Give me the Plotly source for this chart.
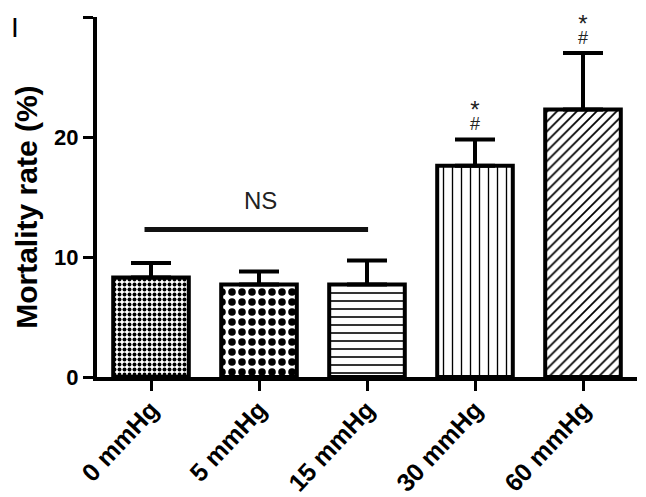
import plotly.graph_objects as go

categories = ["0 mmHg", "5 mmHg", "15 mmHg", "30 mmHg", "60 mmHg"]
mortality = [8.3, 7.7, 7.7, 17.6, 22.3]
sem = [1.2, 1.1, 2.0, 2.2, 4.7]
patterns = [".", ".", "-", "|", "/"]
pattern_sizes = [5, 10, 8, 9, 7]
pattern_solidity = [0.5, 0.45, 0.2, 0.15, 0.25]

y_title = "Mortality rate (%)"
star_groups = ["30 mmHg", "60 mmHg"]
star_text = "<span style='font-size:24px'>*</span><br><span style='font-size:18px'>#</span>"
ns_span = ["0 mmHg", "15 mmHg"]
ns_level = 12.3

FONT = "Arial, Liberation Sans, sans-serif"

fig = go.Figure()
fig.add_trace(go.Bar(
    x=categories, y=mortality, width=0.7,
    marker=dict(
        color="white",
        line=dict(color="black", width=4),
        pattern=dict(shape=patterns, size=pattern_sizes, solidity=pattern_solidity,
                     fgcolor="black", bgcolor="white", fillmode="replace"),
    ),
    error_y=dict(type="data", array=sem, arrayminus=[0] * len(sem), symmetric=False,
                 color="black", thickness=4, width=20),
    showlegend=False,
))

annotations = []
for g in star_groups:
    i = categories.index(g)
    top = mortality[i] + sem[i]
    annotations.append(dict(x=g, y=top, xref="x", yref="y", text=star_text, showarrow=False,
                            yanchor="bottom", yshift=3,
                            font=dict(family=FONT, size=9, color="#222")))

i0 = categories.index(ns_span[0])
i1 = categories.index(ns_span[1])
annotations.append(dict(x=(i0 + i1) / 2 + 0.01, y=ns_level, xref="x", yref="y", text="NS",
                        showarrow=False, yanchor="bottom", yshift=13,
                        font=dict(family=FONT, size=24, color="#222")))
annotations.append(dict(x=-0.1635, y=0.972, xref="paper", yref="paper", text="I",
                        showarrow=False, xanchor="left", yanchor="middle",
                        font=dict(family=FONT, size=28, color="black")))
annotations.append(dict(x=-0.1296, y=0.47, xref="paper", yref="paper", text=y_title,
                        textangle=-90, showarrow=False, xanchor="center", yanchor="middle",
                        font=dict(family=FONT, size=30, color="black", weight="bold")))

fig.add_shape(type="line", x0=i0 - 0.06, x1=i1 + 0.01, y0=ns_level, y1=ns_level,
              xref="x", yref="y", line=dict(color="#111", width=5))

# page body has an 8px default margin, so the plot area is offset accordingly
fig.update_layout(
    width=646, height=497,
    margin=dict(l=89, r=17, t=9, b=128),
    paper_bgcolor="white", plot_bgcolor="white",
    annotations=annotations,
)
fig.update_xaxes(
    range=[-0.5, 4.5], showline=True, linecolor="black", linewidth=4,
    ticks="outside", ticklen=10, tickwidth=3, tickcolor="black",
    tickangle=-47, tickfont=dict(family=FONT, size=25, color="black", weight="bold"),
    ticklabelstandoff=-6,
    showgrid=False, zeroline=False, automargin=False,
)
fig.update_yaxes(
    range=[0, 30], tickvals=[0, 10, 20, 30], showline=True, linecolor="black", linewidth=4,
    ticks="outside", ticklen=10, tickwidth=3, tickcolor="black",
    tickfont=dict(family=FONT, size=22, color="black", weight="bold"),
    showgrid=False, zeroline=False, automargin=False,
)

fig.write_html("out.html")
